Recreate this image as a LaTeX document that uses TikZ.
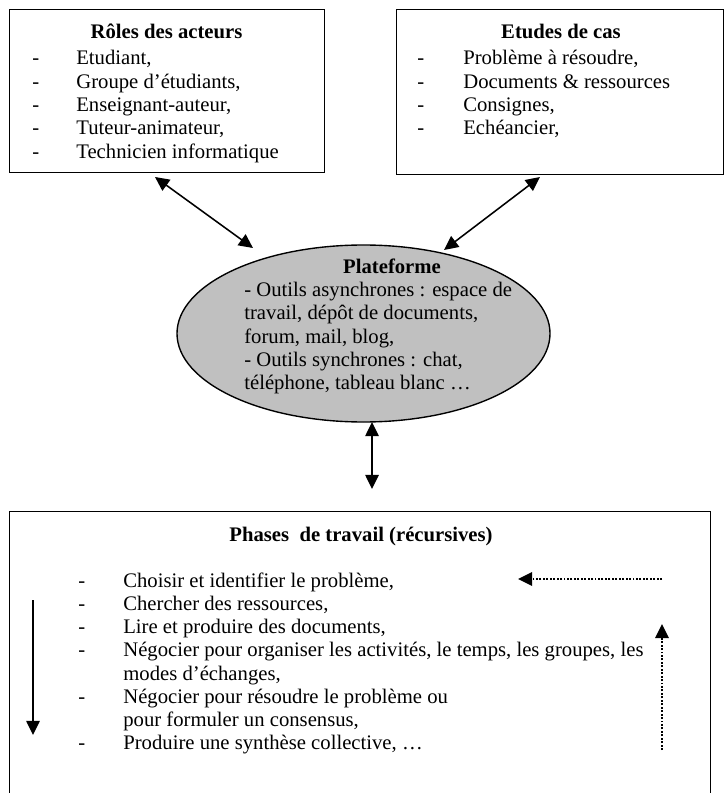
\documentclass[tikz,border=0pt]{standalone}
\usepackage{fontspec}
\setmainfont{Liberation Serif}
\usetikzlibrary{arrows.meta,shapes.geometric}
\definecolor{platgray}{RGB}{192,192,192}
\begin{document}
\begin{tikzpicture}[x=0.58pt,y=-0.58pt,
  box/.style={draw,line width=0.8pt,inner sep=0pt,anchor=north west},
  lbl/.style={inner sep=0pt,anchor=base west,font=\fontsize{12}{13.5}\selectfont},
  ttl/.style={inner sep=0pt,anchor=base,font=\fontsize{12}{13.5}\selectfont\bfseries},
  dbl/.style={{Triangle[length=8.2pt,width=7.8pt]}-{Triangle[length=8.2pt,width=7.8pt]},line width=0.9pt},
  sgl/.style={-{Triangle[length=8.2pt,width=7.8pt]},line width=0.9pt},
  dot/.style={-{Triangle[length=8.2pt,width=7.8pt]},line width=1.2pt,dash pattern=on 1.1pt off 0.9pt}]
\clip (0,0) rectangle (725,793);
\fill[white] (0,0) rectangle (725,793);

% Box 1
\node[box,minimum width=182.7pt,minimum height=94.54pt] (roles) at (9,9) {};
\node[ttl] (rolestitle) at (166.5,39) {Rôles des acteurs};
\node[lbl] (roleslist) at (32,65) {\begin{tabular}[t]{@{}p{25.52pt}@{}l@{}}
-&Etudiant,\\
-&Groupe d’étudiants,\\
-&Enseignant-auteur,\\
-&Tuteur-animateur,\\
-&Technicien informatique
\end{tabular}};

% Box 2
\node[box,minimum width=189.66pt,minimum height=95.7pt] (cas) at (396,9) {};
\node[ttl] (castitle) at (561,39) {Etudes de cas};
\node[lbl] (caslist) at (417,65) {\begin{tabular}[t]{@{}p{26.68pt}@{}l@{}}
-&Problème à résoudre,\\
-&Documents \& ressources\\
-&Consignes,\\
-&Echéancier,
\end{tabular}};

% Ellipse
\node[ellipse,draw,fill=platgray,line width=0.8pt,minimum width=216.34pt,minimum height=102.66pt,inner sep=0pt] (plat) at (363.5,333.5) {};
\node[ttl] (plattitle) at (392,273) {Plateforme};
\node[lbl] (platlist) at (244,296.6) {\begin{tabular}[t]{@{}l@{}}
- Outils asynchrones : espace de\\
travail, dépôt de documents,\\
forum, mail, blog,\\
- Outils synchrones : chat,\\
téléphone, tableau blanc …
\end{tabular}};

% Bottom box
\node[box,minimum width=406.58pt,minimum height=174pt] (phases) at (9,511) {};
\node[ttl] (phasestitle) at (361,541) {Phases\ \ de travail (récursives)};
\node[lbl] (phaseslist) at (78,587) {\begin{tabular}[t]{@{}p{26.1pt}@{}l@{}}
-&Choisir et identifier le problème,\\
-&Chercher des ressources,\\
-&Lire et produire des documents,\\
-&Négocier pour organiser les activités, le temps, les groupes, les\\
&modes d’échanges,\\
-&Négocier pour résoudre le problème ou\\
&pour formuler un consensus,\\
-&Produire une synthèse collective, …
\end{tabular}};

% Connectors
\coordinate (r1) at (155,177);
\coordinate (p1) at (253,248);
\coordinate (c1) at (540,177);
\coordinate (p2) at (444,250);
\coordinate (p3) at (372,422);
\coordinate (b3) at (372,489);
\draw[dbl] (r1) -- (p1);
\draw[dbl] (c1) -- (p2);
\draw[dbl] (p3) -- (b3);

\coordinate (ls) at (33,600);
\coordinate (le) at (33,735);
\draw[sgl] (ls) -- (le);
\coordinate (hs) at (662,579);
\coordinate (he) at (518,579);
\draw[dot] (hs) -- (he);
\coordinate (vs) at (662,750);
\coordinate (ve) at (662,624);
\draw[dot] (vs) -- (ve);
\end{tikzpicture}
\end{document}
